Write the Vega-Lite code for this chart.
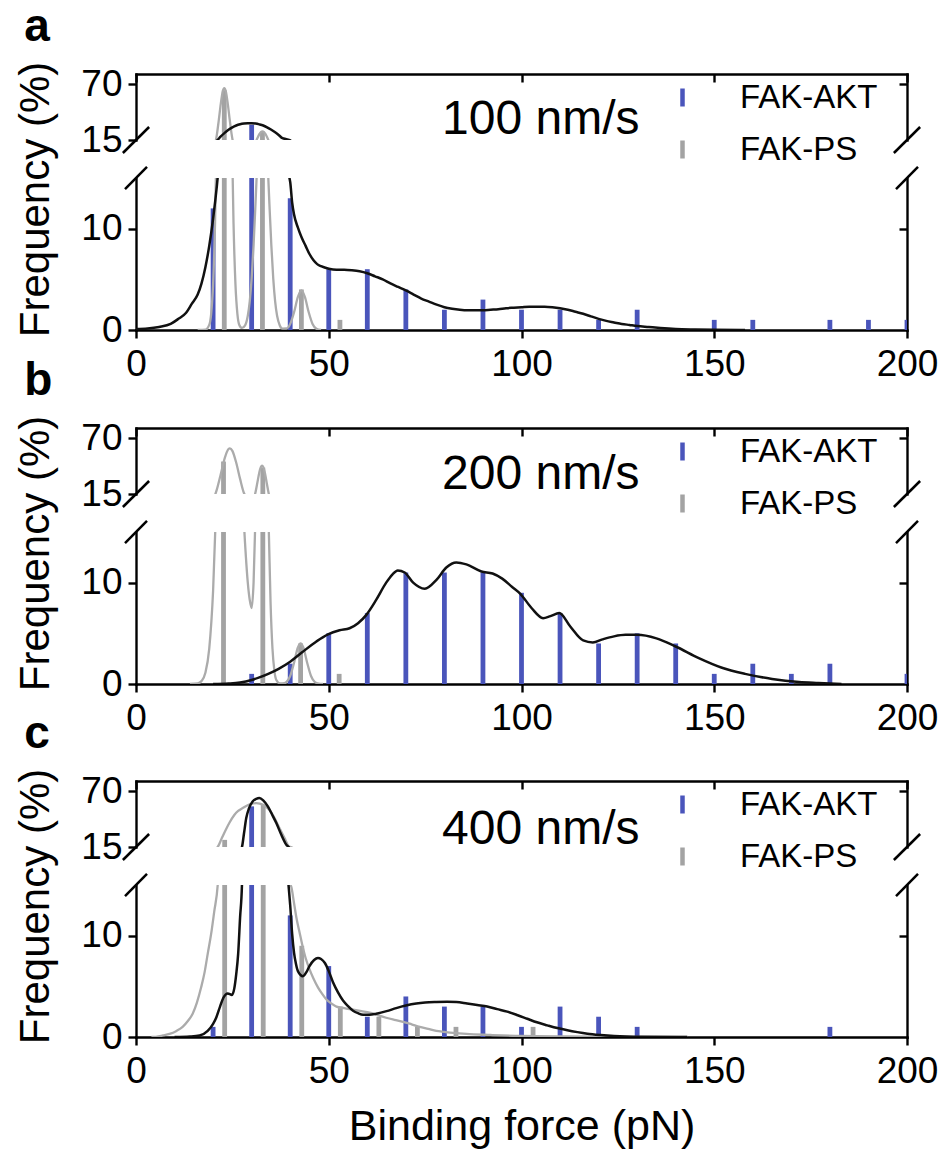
{
  "$schema": "https://vega.github.io/schema/vega-lite/v6.json",
  "background": "white",
  "padding": {"left": 13, "top": 4, "right": 5, "bottom": 5},
  "config": {
    "font": "Liberation Sans",
    "view": {"stroke": null},
    "axis": {"grid": false, "domainColor": "#000000", "domainWidth": 2.4, "tickColor": "#000000", "tickWidth": 2.4, "labelColor": "#000000", "labelFont": "Liberation Sans", "labelFontSize": 37, "titleColor": "#000000", "titleFont": "Liberation Sans", "titleFontWeight": "normal", "titleFontSize": 43, "labelFlush": false, "labelOverlap": false, "domainCap": "square"},
    "legend": {"labelFont": "Liberation Sans", "labelFontSize": 33, "labelColor": "#000000", "labelLimit": 0}
  },
  "datasets": {
    "bars_a": [
      {"force": 20, "freq": 12, "series": "FAK-AKT"}, {"force": 30, "freq": 30, "series": "FAK-AKT"}, {"force": 40, "freq": 13, "series": "FAK-AKT"},
      {"force": 50, "freq": 6, "series": "FAK-AKT"}, {"force": 60, "freq": 6, "series": "FAK-AKT"}, {"force": 70, "freq": 4, "series": "FAK-AKT"},
      {"force": 80, "freq": 2, "series": "FAK-AKT"}, {"force": 90, "freq": 3, "series": "FAK-AKT"}, {"force": 100, "freq": 2, "series": "FAK-AKT"},
      {"force": 110, "freq": 2, "series": "FAK-AKT"}, {"force": 120, "freq": 1, "series": "FAK-AKT"}, {"force": 130, "freq": 2, "series": "FAK-AKT"},
      {"force": 150, "freq": 1, "series": "FAK-AKT"}, {"force": 160, "freq": 1, "series": "FAK-AKT"}, {"force": 180, "freq": 1, "series": "FAK-AKT"},
      {"force": 190, "freq": 1, "series": "FAK-AKT"}, {"force": 200, "freq": 1, "series": "FAK-AKT"},
      {"force": 22.9, "freq": 64, "series": "FAK-PS"}, {"force": 32.8, "freq": 23, "series": "FAK-PS"}, {"force": 42.9, "freq": 4, "series": "FAK-PS"}, {"force": 52.9, "freq": 1, "series": "FAK-PS"}
    ],
    "bars_b": [
      {"force": 30, "freq": 1, "series": "FAK-AKT"}, {"force": 40, "freq": 2, "series": "FAK-AKT"}, {"force": 50, "freq": 5, "series": "FAK-AKT"},
      {"force": 60, "freq": 7, "series": "FAK-AKT"}, {"force": 70, "freq": 11, "series": "FAK-AKT"}, {"force": 80, "freq": 11, "series": "FAK-AKT"},
      {"force": 90, "freq": 11, "series": "FAK-AKT"}, {"force": 100, "freq": 9, "series": "FAK-AKT"}, {"force": 110, "freq": 7, "series": "FAK-AKT"},
      {"force": 120, "freq": 4, "series": "FAK-AKT"}, {"force": 130, "freq": 5, "series": "FAK-AKT"}, {"force": 140, "freq": 4, "series": "FAK-AKT"},
      {"force": 150, "freq": 1, "series": "FAK-AKT"}, {"force": 160, "freq": 2, "series": "FAK-AKT"}, {"force": 170, "freq": 1, "series": "FAK-AKT"},
      {"force": 180, "freq": 2, "series": "FAK-AKT"}, {"force": 200, "freq": 1, "series": "FAK-AKT"},
      {"force": 22.7, "freq": 47, "series": "FAK-PS"}, {"force": 32.9, "freq": 41, "series": "FAK-PS"}, {"force": 42.7, "freq": 4, "series": "FAK-PS"}, {"force": 52.7, "freq": 1, "series": "FAK-PS"}
    ],
    "bars_c": [
      {"force": 20, "freq": 1, "series": "FAK-AKT"}, {"force": 30, "freq": 55, "series": "FAK-AKT"}, {"force": 40, "freq": 12, "series": "FAK-AKT"},
      {"force": 50, "freq": 7, "series": "FAK-AKT"}, {"force": 60, "freq": 2, "series": "FAK-AKT"}, {"force": 70, "freq": 4, "series": "FAK-AKT"},
      {"force": 80, "freq": 3, "series": "FAK-AKT"}, {"force": 90, "freq": 3, "series": "FAK-AKT"}, {"force": 100, "freq": 1, "series": "FAK-AKT"},
      {"force": 110, "freq": 3, "series": "FAK-AKT"}, {"force": 120, "freq": 2, "series": "FAK-AKT"}, {"force": 130, "freq": 1, "series": "FAK-AKT"},
      {"force": 180, "freq": 1, "series": "FAK-AKT"},
      {"force": 23, "freq": 22, "series": "FAK-PS"}, {"force": 33, "freq": 57, "series": "FAK-PS"}, {"force": 43, "freq": 9, "series": "FAK-PS"},
      {"force": 53, "freq": 3, "series": "FAK-PS"}, {"force": 63, "freq": 2, "series": "FAK-PS"}, {"force": 73, "freq": 1, "series": "FAK-PS"},
      {"force": 83, "freq": 1, "series": "FAK-PS"}, {"force": 103, "freq": 1, "series": "FAK-PS"}
    ],
    "akt_a": [
      {"force": 0, "freq": 0.1}, {"force": 3, "freq": 0.15}, {"force": 6, "freq": 0.3}, {"force": 9, "freq": 0.6}, {"force": 11, "freq": 1.1},
      {"force": 13, "freq": 1.7}, {"force": 14.5, "freq": 2.6}, {"force": 16, "freq": 3.5}, {"force": 17, "freq": 4.6}, {"force": 18, "freq": 6.2},
      {"force": 19, "freq": 8.3}, {"force": 20, "freq": 11.0}, {"force": 21, "freq": 14.3}, {"force": 22, "freq": 18.5}, {"force": 23, "freq": 22},
      {"force": 24, "freq": 25}, {"force": 25, "freq": 27.5}, {"force": 26, "freq": 29.3}, {"force": 27, "freq": 30.5}, {"force": 28, "freq": 31.2},
      {"force": 29, "freq": 31.5}, {"force": 30, "freq": 31.5}, {"force": 31, "freq": 31.2}, {"force": 32, "freq": 30.4}, {"force": 33, "freq": 29.3},
      {"force": 34, "freq": 27.5}, {"force": 35, "freq": 25.3}, {"force": 36, "freq": 22.8}, {"force": 37, "freq": 20}, {"force": 38, "freq": 16.8},
      {"force": 39, "freq": 15.9}, {"force": 40, "freq": 14.6}, {"force": 40.5, "freq": 12.6}, {"force": 41, "freq": 11.4}, {"force": 42, "freq": 10.1},
      {"force": 43, "freq": 9.1}, {"force": 44, "freq": 8.3}, {"force": 45, "freq": 7.5}, {"force": 46, "freq": 6.9}, {"force": 47, "freq": 6.5},
      {"force": 48, "freq": 6.3}, {"force": 50, "freq": 6.05}, {"force": 52, "freq": 5.95}, {"force": 54, "freq": 5.95}, {"force": 56, "freq": 5.9},
      {"force": 58, "freq": 5.8}, {"force": 60, "freq": 5.6}, {"force": 62, "freq": 5.3}, {"force": 64, "freq": 5.0}, {"force": 66, "freq": 4.6},
      {"force": 68, "freq": 4.25}, {"force": 70, "freq": 3.9}, {"force": 72, "freq": 3.5}, {"force": 74, "freq": 3.1}, {"force": 76, "freq": 2.8},
      {"force": 78, "freq": 2.5}, {"force": 80, "freq": 2.25}, {"force": 82, "freq": 2.1}, {"force": 84, "freq": 2.0}, {"force": 86, "freq": 1.95},
      {"force": 88, "freq": 1.95}, {"force": 90, "freq": 1.95}, {"force": 92, "freq": 2.0}, {"force": 94, "freq": 2.05}, {"force": 96, "freq": 2.15},
      {"force": 98, "freq": 2.2}, {"force": 100, "freq": 2.25}, {"force": 102, "freq": 2.3}, {"force": 104, "freq": 2.3}, {"force": 106, "freq": 2.3},
      {"force": 108, "freq": 2.25}, {"force": 110, "freq": 2.15}, {"force": 112, "freq": 2.0}, {"force": 114, "freq": 1.8}, {"force": 116, "freq": 1.6},
      {"force": 118, "freq": 1.35}, {"force": 120, "freq": 1.1}, {"force": 122, "freq": 0.9}, {"force": 124, "freq": 0.75}, {"force": 126, "freq": 0.6},
      {"force": 128, "freq": 0.5}, {"force": 130, "freq": 0.4}, {"force": 133, "freq": 0.3}, {"force": 136, "freq": 0.2}, {"force": 140, "freq": 0.1},
      {"force": 145, "freq": 0.05}, {"force": 150, "freq": 0.02}, {"force": 158, "freq": 0}
    ],
    "ps_a": [
      {"force": 16, "freq": 0}, {"force": 18, "freq": 0.03}, {"force": 19, "freq": 0.5}, {"force": 19.5, "freq": 1.6}, {"force": 20, "freq": 4.5},
      {"force": 20.5, "freq": 10.5}, {"force": 21, "freq": 20.8}, {"force": 21.5, "freq": 35.3}, {"force": 22, "freq": 50.9}, {"force": 22.5, "freq": 62.7},
      {"force": 22.9, "freq": 66}, {"force": 23.3, "freq": 62.7}, {"force": 23.8, "freq": 50.9}, {"force": 24.3, "freq": 35.3}, {"force": 24.8, "freq": 20.8},
      {"force": 25.3, "freq": 10.5}, {"force": 25.8, "freq": 4.5}, {"force": 26.3, "freq": 1.6}, {"force": 26.8, "freq": 0.5}, {"force": 27.5, "freq": 0.2},
      {"force": 28.3, "freq": 0.45}, {"force": 29, "freq": 1.4}, {"force": 29.5, "freq": 2.8}, {"force": 30, "freq": 5.1}, {"force": 30.5, "freq": 8.4},
      {"force": 31, "freq": 12.5}, {"force": 31.5, "freq": 16.9}, {"force": 32, "freq": 20.7}, {"force": 32.4, "freq": 22.8}, {"force": 32.8, "freq": 23.5},
      {"force": 33.2, "freq": 22.8}, {"force": 33.6, "freq": 20.7}, {"force": 34.1, "freq": 16.9}, {"force": 34.6, "freq": 12.5}, {"force": 35.1, "freq": 8.4},
      {"force": 35.6, "freq": 5.1}, {"force": 36.1, "freq": 2.8}, {"force": 36.6, "freq": 1.4}, {"force": 37.3, "freq": 0.45}, {"force": 38, "freq": 0.14},
      {"force": 39, "freq": 0.15}, {"force": 40, "freq": 0.6}, {"force": 41, "freq": 1.75}, {"force": 42, "freq": 3.26}, {"force": 42.9, "freq": 3.9},
      {"force": 43.8, "freq": 3.26}, {"force": 44.8, "freq": 1.75}, {"force": 45.8, "freq": 0.6}, {"force": 46.8, "freq": 0.13}, {"force": 48, "freq": 0}
    ],
    "akt_b": [
      {"force": 20, "freq": 0}, {"force": 24, "freq": 0.05}, {"force": 27, "freq": 0.15}, {"force": 30, "freq": 0.4}, {"force": 32, "freq": 0.65},
      {"force": 34.6, "freq": 1.05}, {"force": 37, "freq": 1.5}, {"force": 40, "freq": 2.2}, {"force": 43, "freq": 3.1}, {"force": 46.8, "freq": 4.2},
      {"force": 49.8, "freq": 4.9}, {"force": 52.8, "freq": 5.3}, {"force": 55.4, "freq": 5.5}, {"force": 57.6, "freq": 6.0}, {"force": 59.7, "freq": 6.8},
      {"force": 62.3, "freq": 8.3}, {"force": 64.9, "freq": 10.0}, {"force": 66.5, "freq": 10.8}, {"force": 67.9, "freq": 11.2}, {"force": 69.7, "freq": 11.0},
      {"force": 71.9, "freq": 10.0}, {"force": 74.9, "freq": 9.4}, {"force": 78, "freq": 10.3}, {"force": 80.5, "freq": 11.5}, {"force": 83.1, "freq": 12.0},
      {"force": 85.7, "freq": 11.8}, {"force": 89.6, "freq": 11.1}, {"force": 92.5, "freq": 10.9}, {"force": 95, "freq": 10.4}, {"force": 97.5, "freq": 9.6},
      {"force": 99.7, "freq": 8.9}, {"force": 102.6, "freq": 7.5}, {"force": 105.6, "freq": 6.5}, {"force": 107.5, "freq": 6.7}, {"force": 109.8, "freq": 7.0},
      {"force": 112.6, "freq": 5.7}, {"force": 116, "freq": 4.3}, {"force": 118.5, "freq": 4.1}, {"force": 121, "freq": 4.4}, {"force": 124, "freq": 4.7},
      {"force": 127, "freq": 4.85}, {"force": 130, "freq": 4.85}, {"force": 135, "freq": 4.5}, {"force": 140, "freq": 3.7}, {"force": 146, "freq": 2.55},
      {"force": 152, "freq": 1.6}, {"force": 158, "freq": 1.0}, {"force": 165, "freq": 0.5}, {"force": 172, "freq": 0.2}, {"force": 177, "freq": 0.1},
      {"force": 183, "freq": 0}
    ],
    "ps_b": [
      {"force": 14, "freq": 0}, {"force": 16, "freq": 0.06}, {"force": 17, "freq": 0.3}, {"force": 18, "freq": 1.1}, {"force": 19, "freq": 3.5},
      {"force": 20, "freq": 9.2}, {"force": 21, "freq": 19.8}, {"force": 22, "freq": 34.7}, {"force": 23, "freq": 50.1}, {"force": 24, "freq": 59.3},
      {"force": 24.35, "freq": 60}, {"force": 25, "freq": 57.5}, {"force": 26, "freq": 45.8}, {"force": 27, "freq": 29.9}, {"force": 28, "freq": 16.0},
      {"force": 28.5, "freq": 12.6}, {"force": 29, "freq": 10}, {"force": 29.5, "freq": 8.3}, {"force": 30, "freq": 7.5}, {"force": 30.5, "freq": 10},
      {"force": 31, "freq": 16.7}, {"force": 31.5, "freq": 26.5}, {"force": 32, "freq": 36.5}, {"force": 32.4, "freq": 41.7}, {"force": 32.7, "freq": 43},
      {"force": 33, "freq": 41.7}, {"force": 33.4, "freq": 36.3}, {"force": 33.9, "freq": 26.2}, {"force": 34.4, "freq": 15.9}, {"force": 34.9, "freq": 8.1},
      {"force": 35.4, "freq": 3.5}, {"force": 35.9, "freq": 1.3}, {"force": 36.4, "freq": 0.4}, {"force": 37.4, "freq": 0.05}, {"force": 38.5, "freq": 0.08},
      {"force": 39, "freq": 0.19}, {"force": 40, "freq": 0.79}, {"force": 41, "freq": 2.1}, {"force": 42, "freq": 3.6}, {"force": 42.7, "freq": 4.0},
      {"force": 43.4, "freq": 3.6}, {"force": 44.4, "freq": 2.1}, {"force": 45.4, "freq": 0.79}, {"force": 46.4, "freq": 0.19}, {"force": 47.4, "freq": 0.04},
      {"force": 48.5, "freq": 0}
    ],
    "akt_c": [
      {"force": 10, "freq": 0}, {"force": 14, "freq": 0.05}, {"force": 16.5, "freq": 0.15}, {"force": 18.6, "freq": 0.6}, {"force": 20, "freq": 1.3},
      {"force": 20.8, "freq": 1.9}, {"force": 21.8, "freq": 3.0}, {"force": 22.7, "freq": 3.9}, {"force": 23.8, "freq": 4.3}, {"force": 24.9, "freq": 4.15},
      {"force": 25.5, "freq": 4.8}, {"force": 26, "freq": 6.2}, {"force": 26.5, "freq": 8.2}, {"force": 27, "freq": 11.8}, {"force": 27.5, "freq": 15.2},
      {"force": 28, "freq": 28}, {"force": 28.6, "freq": 43.6}, {"force": 29.3, "freq": 53}, {"force": 30.3, "freq": 60}, {"force": 31.2, "freq": 62.5},
      {"force": 32, "freq": 63.3}, {"force": 33, "freq": 61}, {"force": 34.2, "freq": 55}, {"force": 35.3, "freq": 47}, {"force": 36.4, "freq": 38.6},
      {"force": 37.7, "freq": 27}, {"force": 39, "freq": 17.3}, {"force": 39.5, "freq": 15.3}, {"force": 40, "freq": 13}, {"force": 40.5, "freq": 10.2},
      {"force": 41, "freq": 8.3}, {"force": 41.5, "freq": 7.2}, {"force": 42, "freq": 6.5}, {"force": 43.3, "freq": 6.0}, {"force": 44.2, "freq": 6.4},
      {"force": 45, "freq": 7.0}, {"force": 46.2, "freq": 7.6}, {"force": 47.2, "freq": 7.8}, {"force": 48, "freq": 7.7}, {"force": 49, "freq": 7.3},
      {"force": 50, "freq": 6.5}, {"force": 51.1, "freq": 5.4}, {"force": 52.4, "freq": 4.4}, {"force": 53.7, "freq": 3.6}, {"force": 55, "freq": 3.05},
      {"force": 56.3, "freq": 2.6}, {"force": 57.6, "freq": 2.35}, {"force": 58.9, "freq": 2.2}, {"force": 60.6, "freq": 2.2}, {"force": 62.3, "freq": 2.3},
      {"force": 65, "freq": 2.55}, {"force": 67.5, "freq": 2.85}, {"force": 70, "freq": 3.1}, {"force": 72.7, "freq": 3.3}, {"force": 75, "freq": 3.4},
      {"force": 77.9, "freq": 3.45}, {"force": 80.7, "freq": 3.47}, {"force": 83.1, "freq": 3.45}, {"force": 85.9, "freq": 3.3}, {"force": 88.5, "freq": 3.15},
      {"force": 91.1, "freq": 3.0}, {"force": 93.7, "freq": 2.75}, {"force": 96.3, "freq": 2.5}, {"force": 99, "freq": 2.15}, {"force": 101.5, "freq": 1.8},
      {"force": 104, "freq": 1.45}, {"force": 106.7, "freq": 1.15}, {"force": 109.3, "freq": 0.88}, {"force": 111.9, "freq": 0.66}, {"force": 114.5, "freq": 0.48},
      {"force": 117.1, "freq": 0.33}, {"force": 120.5, "freq": 0.2}, {"force": 124, "freq": 0.1}, {"force": 131, "freq": 0.02}, {"force": 143, "freq": 0}
    ],
    "ps_c": [
      {"force": 4, "freq": 0}, {"force": 5.2, "freq": 0.02}, {"force": 7, "freq": 0.15}, {"force": 8.7, "freq": 0.3}, {"force": 10.5, "freq": 0.6},
      {"force": 12.1, "freq": 1.0}, {"force": 13.5, "freq": 1.6}, {"force": 14.7, "freq": 2.3}, {"force": 15.8, "freq": 3.4}, {"force": 16.9, "freq": 4.9},
      {"force": 17.8, "freq": 6.4}, {"force": 18.6, "freq": 8.2}, {"force": 19.5, "freq": 10.2}, {"force": 20.3, "freq": 12.4}, {"force": 21.2, "freq": 15.0},
      {"force": 22.3, "freq": 24}, {"force": 23.3, "freq": 32}, {"force": 24.2, "freq": 38.6}, {"force": 25.5, "freq": 46.5}, {"force": 26.5, "freq": 50.5},
      {"force": 27.7, "freq": 53.4}, {"force": 29.5, "freq": 57}, {"force": 31.2, "freq": 58.3}, {"force": 33, "freq": 56.5}, {"force": 34.6, "freq": 51.7},
      {"force": 36, "freq": 43}, {"force": 37.2, "freq": 33.7}, {"force": 38.5, "freq": 24}, {"force": 39.8, "freq": 15.2}, {"force": 40.3, "freq": 14.8},
      {"force": 41, "freq": 13.2}, {"force": 41.6, "freq": 11.8}, {"force": 42.5, "freq": 10.2}, {"force": 43.3, "freq": 8.8}, {"force": 44, "freq": 7.8},
      {"force": 45, "freq": 6.7}, {"force": 46, "freq": 5.8}, {"force": 47.2, "freq": 4.9}, {"force": 48.3, "freq": 4.25}, {"force": 49.4, "freq": 3.7},
      {"force": 50.7, "freq": 3.3}, {"force": 52, "freq": 3.0}, {"force": 54, "freq": 2.85}, {"force": 56.3, "freq": 2.7}, {"force": 58.5, "freq": 2.55},
      {"force": 60.6, "freq": 2.4}, {"force": 62.7, "freq": 2.15}, {"force": 64.9, "freq": 1.9}, {"force": 67, "freq": 1.7}, {"force": 69.3, "freq": 1.5},
      {"force": 71.5, "freq": 1.25}, {"force": 73.6, "freq": 1.0}, {"force": 75.8, "freq": 0.8}, {"force": 77.9, "freq": 0.6}, {"force": 80, "freq": 0.5},
      {"force": 82.3, "freq": 0.4}, {"force": 85.7, "freq": 0.3}, {"force": 92, "freq": 0.2}, {"force": 100, "freq": 0.1}, {"force": 112, "freq": 0.05},
      {"force": 125, "freq": 0.02}, {"force": 143, "freq": 0}
    ]
  },
  "spacing": 38,
  "bounds": "flush",
  "resolve": {"scale": {"color": "independent"}},
  "vconcat": [
    {
      "width": 771, "height": 66,
      "layer": [
        {"data": {"name": "bars_a"}, "mark": {"type": "rule", "strokeWidth": 4.8, "clip": true},
         "encoding": {
           "x": {"field": "force", "type": "quantitative", "scale": {"domain": [0, 200], "nice": false, "zero": false}, "axis": {"orient": "top", "values": [0, 50, 100, 150, 200], "labels": false, "tickSize": -8, "title": null}},
           "y": {"field": "freq", "type": "quantitative", "scale": {"domain": [15, 80], "nice": false, "zero": false}, "axis": {"orient": "left", "values": [15, 70], "title": null, "tickSize": 8, "labelPadding": 6}},
           "y2": {"datum": 0},
           "color": {"field": "series", "type": "nominal", "scale": {"domain": ["FAK-AKT", "FAK-PS"], "range": ["#4a55bb", "#a3a3a3"]},
             "legend": {"orient": "none", "legendX": 530, "legendY": 7, "title": null, "symbolType": "M0,-1V1", "symbolSize": 324, "symbolStrokeWidth": 4.5, "labelOffset": 41, "rowPadding": 15, "padding": 0, "direction": "vertical"}}
         }},
        {"data": {"name": "ps_a"}, "mark": {"type": "line", "color": "#ababab", "strokeWidth": 2.3, "interpolate": "monotone", "clip": true},
         "encoding": {"x": {"field": "force", "type": "quantitative", "axis": null}, "y": {"field": "freq", "type": "quantitative", "axis": {"orient": "right", "values": [70], "labels": false, "tickSize": -8, "title": null}}}},
        {"data": {"name": "akt_a"}, "mark": {"type": "line", "color": "#111111", "strokeWidth": 2.5, "interpolate": "monotone", "clip": true},
         "encoding": {"x": {"field": "force", "type": "quantitative", "axis": null}, "y": {"field": "freq", "type": "quantitative", "axis": null}}},
        {"data": {"values": [{}]}, "mark": {"type": "rule", "strokeWidth": 2.5, "color": "#000000", "clip": false},
         "encoding": {"x": {"datum": -3.4, "type": "quantitative", "axis": null}, "x2": {"datum": 3.4}, "y": {"datum": 2.2, "type": "quantitative", "axis": null}, "y2": {"datum": 27.8}}},
        {"data": {"values": [{}]}, "mark": {"type": "rule", "strokeWidth": 2.5, "color": "#000000", "clip": false},
         "encoding": {"x": {"datum": 196.6, "type": "quantitative", "axis": null}, "x2": {"datum": 203.4}, "y": {"datum": 2.2, "type": "quantitative", "axis": null}, "y2": {"datum": 27.8}}},
        {"data": {"values": [{}]}, "mark": {"type": "text", "text": "100 nm/s", "fontSize": 48, "align": "center", "baseline": "alphabetic", "color": "#000000", "clip": false},
         "encoding": {"x": {"datum": 105, "type": "quantitative", "axis": null}, "y": {"datum": 20.5, "type": "quantitative", "axis": null}}},
        {"data": {"values": [{}]}, "mark": {"type": "text", "text": "a", "fontSize": 46, "fontWeight": "bold", "align": "left", "baseline": "alphabetic", "color": "#000000", "clip": false},
         "encoding": {"x": {"datum": -29, "type": "quantitative", "axis": null}, "y": {"datum": 112.5, "type": "quantitative", "axis": null}}}
      ],
      "resolve": {"axis": {"x": "independent", "y": "independent"}}
    },
    {
      "width": 771, "height": 152,
      "layer": [
        {"data": {"name": "bars_a"}, "mark": {"type": "rule", "strokeWidth": 4.8, "clip": true},
         "encoding": {
           "x": {"field": "force", "type": "quantitative", "scale": {"domain": [0, 200], "nice": false, "zero": false}, "axis": {"orient": "bottom", "values": [0, 50, 100, 150, 200], "tickSize": 8, "labelPadding": 8, "title": null}},
           "y": {"field": "freq", "type": "quantitative", "scale": {"domain": [0, 15], "nice": false, "zero": false}, "axis": {"orient": "left", "values": [0, 10], "tickSize": 8, "labelPadding": 6, "title": "Frequency (%)", "titleFontSize": 42, "titleX": -101, "titleY": 21, "titleAngle": 270, "titleAlign": "center", "titleBaseline": "middle"}},
           "y2": {"datum": 0},
           "color": {"field": "series", "type": "nominal", "scale": {"domain": ["FAK-AKT", "FAK-PS"], "range": ["#4a55bb", "#a3a3a3"]}, "legend": null}
         }},
        {"data": {"name": "ps_a"}, "mark": {"type": "line", "color": "#ababab", "strokeWidth": 2.3, "interpolate": "monotone", "clip": true},
         "encoding": {"x": {"field": "force", "type": "quantitative", "axis": null}, "y": {"field": "freq", "type": "quantitative", "axis": {"orient": "right", "values": [10], "labels": false, "tickSize": -8, "title": null}}}},
        {"data": {"name": "akt_a"}, "mark": {"type": "line", "color": "#111111", "strokeWidth": 2.5, "interpolate": "monotone", "clip": true},
         "encoding": {"x": {"field": "force", "type": "quantitative", "axis": null}, "y": {"field": "freq", "type": "quantitative", "axis": null}}},
        {"data": {"values": [{}]}, "mark": {"type": "rule", "strokeWidth": 2.5, "color": "#000000", "clip": false},
         "encoding": {"x": {"datum": -2.85, "type": "quantitative", "axis": null}, "x2": {"datum": 2.85}, "y": {"datum": 13.9, "type": "quantitative", "axis": null}, "y2": {"datum": 16.1}}},
        {"data": {"values": [{}]}, "mark": {"type": "rule", "strokeWidth": 2.5, "color": "#000000", "clip": false},
         "encoding": {"x": {"datum": 197.15, "type": "quantitative", "axis": null}, "x2": {"datum": 202.85}, "y": {"datum": 13.9, "type": "quantitative", "axis": null}, "y2": {"datum": 16.1}}}
      ],
      "resolve": {"axis": {"x": "independent", "y": "independent"}}
    },
    {"width": 771, "height": 22, "data": {"values": []}, "mark": "point"},
    {
      "width": 771, "height": 66,
      "layer": [
        {"data": {"name": "bars_b"}, "mark": {"type": "rule", "strokeWidth": 4.8, "clip": true},
         "encoding": {
           "x": {"field": "force", "type": "quantitative", "scale": {"domain": [0, 200], "nice": false, "zero": false}, "axis": {"orient": "top", "values": [0, 50, 100, 150, 200], "labels": false, "tickSize": -8, "title": null}},
           "y": {"field": "freq", "type": "quantitative", "scale": {"domain": [15, 80], "nice": false, "zero": false}, "axis": {"orient": "left", "values": [15, 70], "title": null, "tickSize": 8, "labelPadding": 6}},
           "y2": {"datum": 0},
           "color": {"field": "series", "type": "nominal", "scale": {"domain": ["FAK-AKT", "FAK-PS"], "range": ["#4a55bb", "#a3a3a3"]},
             "legend": {"orient": "none", "legendX": 530, "legendY": 7, "title": null, "symbolType": "M0,-1V1", "symbolSize": 324, "symbolStrokeWidth": 4.5, "labelOffset": 41, "rowPadding": 15, "padding": 0, "direction": "vertical"}}
         }},
        {"data": {"name": "ps_b"}, "mark": {"type": "line", "color": "#ababab", "strokeWidth": 2.3, "interpolate": "monotone", "clip": true},
         "encoding": {"x": {"field": "force", "type": "quantitative", "axis": null}, "y": {"field": "freq", "type": "quantitative", "axis": {"orient": "right", "values": [70], "labels": false, "tickSize": -8, "title": null}}}},
        {"data": {"name": "akt_b"}, "mark": {"type": "line", "color": "#111111", "strokeWidth": 2.5, "interpolate": "monotone", "clip": true},
         "encoding": {"x": {"field": "force", "type": "quantitative", "axis": null}, "y": {"field": "freq", "type": "quantitative", "axis": null}}},
        {"data": {"values": [{}]}, "mark": {"type": "rule", "strokeWidth": 2.5, "color": "#000000", "clip": false},
         "encoding": {"x": {"datum": -3.4, "type": "quantitative", "axis": null}, "x2": {"datum": 3.4}, "y": {"datum": 2.2, "type": "quantitative", "axis": null}, "y2": {"datum": 27.8}}},
        {"data": {"values": [{}]}, "mark": {"type": "rule", "strokeWidth": 2.5, "color": "#000000", "clip": false},
         "encoding": {"x": {"datum": 196.6, "type": "quantitative", "axis": null}, "x2": {"datum": 203.4}, "y": {"datum": 2.2, "type": "quantitative", "axis": null}, "y2": {"datum": 27.8}}},
        {"data": {"values": [{}]}, "mark": {"type": "text", "text": "200 nm/s", "fontSize": 48, "align": "center", "baseline": "alphabetic", "color": "#000000", "clip": false},
         "encoding": {"x": {"datum": 105, "type": "quantitative", "axis": null}, "y": {"datum": 20, "type": "quantitative", "axis": null}}},
        {"data": {"values": [{}]}, "mark": {"type": "text", "text": "b", "fontSize": 46, "fontWeight": "bold", "align": "left", "baseline": "alphabetic", "color": "#000000", "clip": false},
         "encoding": {"x": {"datum": -29, "type": "quantitative", "axis": null}, "y": {"datum": 112.5, "type": "quantitative", "axis": null}}}
      ],
      "resolve": {"axis": {"x": "independent", "y": "independent"}}
    },
    {
      "width": 771, "height": 152,
      "layer": [
        {"data": {"name": "bars_b"}, "mark": {"type": "rule", "strokeWidth": 4.8, "clip": true},
         "encoding": {
           "x": {"field": "force", "type": "quantitative", "scale": {"domain": [0, 200], "nice": false, "zero": false}, "axis": {"orient": "bottom", "values": [0, 50, 100, 150, 200], "tickSize": 8, "labelPadding": 8, "title": null}},
           "y": {"field": "freq", "type": "quantitative", "scale": {"domain": [0, 15], "nice": false, "zero": false}, "axis": {"orient": "left", "values": [0, 10], "tickSize": 8, "labelPadding": 6, "title": "Frequency (%)", "titleFontSize": 42, "titleX": -101, "titleY": 21, "titleAngle": 270, "titleAlign": "center", "titleBaseline": "middle"}},
           "y2": {"datum": 0},
           "color": {"field": "series", "type": "nominal", "scale": {"domain": ["FAK-AKT", "FAK-PS"], "range": ["#4a55bb", "#a3a3a3"]}, "legend": null}
         }},
        {"data": {"name": "ps_b"}, "mark": {"type": "line", "color": "#ababab", "strokeWidth": 2.3, "interpolate": "monotone", "clip": true},
         "encoding": {"x": {"field": "force", "type": "quantitative", "axis": null}, "y": {"field": "freq", "type": "quantitative", "axis": {"orient": "right", "values": [10], "labels": false, "tickSize": -8, "title": null}}}},
        {"data": {"name": "akt_b"}, "mark": {"type": "line", "color": "#111111", "strokeWidth": 2.5, "interpolate": "monotone", "clip": true},
         "encoding": {"x": {"field": "force", "type": "quantitative", "axis": null}, "y": {"field": "freq", "type": "quantitative", "axis": null}}},
        {"data": {"values": [{}]}, "mark": {"type": "rule", "strokeWidth": 2.5, "color": "#000000", "clip": false},
         "encoding": {"x": {"datum": -2.85, "type": "quantitative", "axis": null}, "x2": {"datum": 2.85}, "y": {"datum": 13.9, "type": "quantitative", "axis": null}, "y2": {"datum": 16.1}}},
        {"data": {"values": [{}]}, "mark": {"type": "rule", "strokeWidth": 2.5, "color": "#000000", "clip": false},
         "encoding": {"x": {"datum": 197.15, "type": "quantitative", "axis": null}, "x2": {"datum": 202.85}, "y": {"datum": 13.9, "type": "quantitative", "axis": null}, "y2": {"datum": 16.1}}}
      ],
      "resolve": {"axis": {"x": "independent", "y": "independent"}}
    },
    {"width": 771, "height": 21, "data": {"values": []}, "mark": "point"},
    {
      "width": 771, "height": 66,
      "layer": [
        {"data": {"name": "bars_c"}, "mark": {"type": "rule", "strokeWidth": 4.8, "clip": true},
         "encoding": {
           "x": {"field": "force", "type": "quantitative", "scale": {"domain": [0, 200], "nice": false, "zero": false}, "axis": {"orient": "top", "values": [0, 50, 100, 150, 200], "labels": false, "tickSize": -8, "title": null}},
           "y": {"field": "freq", "type": "quantitative", "scale": {"domain": [15, 80], "nice": false, "zero": false}, "axis": {"orient": "left", "values": [15, 70], "title": null, "tickSize": 8, "labelPadding": 6}},
           "y2": {"datum": 0},
           "color": {"field": "series", "type": "nominal", "scale": {"domain": ["FAK-AKT", "FAK-PS"], "range": ["#4a55bb", "#a3a3a3"]},
             "legend": {"orient": "none", "legendX": 530, "legendY": 7, "title": null, "symbolType": "M0,-1V1", "symbolSize": 324, "symbolStrokeWidth": 4.5, "labelOffset": 41, "rowPadding": 15, "padding": 0, "direction": "vertical"}}
         }},
        {"data": {"name": "ps_c"}, "mark": {"type": "line", "color": "#ababab", "strokeWidth": 2.3, "interpolate": "monotone", "clip": true},
         "encoding": {"x": {"field": "force", "type": "quantitative", "axis": null}, "y": {"field": "freq", "type": "quantitative", "axis": {"orient": "right", "values": [70], "labels": false, "tickSize": -8, "title": null}}}},
        {"data": {"name": "akt_c"}, "mark": {"type": "line", "color": "#111111", "strokeWidth": 2.5, "interpolate": "monotone", "clip": true},
         "encoding": {"x": {"field": "force", "type": "quantitative", "axis": null}, "y": {"field": "freq", "type": "quantitative", "axis": null}}},
        {"data": {"values": [{}]}, "mark": {"type": "rule", "strokeWidth": 2.5, "color": "#000000", "clip": false},
         "encoding": {"x": {"datum": -3.4, "type": "quantitative", "axis": null}, "x2": {"datum": 3.4}, "y": {"datum": 2.2, "type": "quantitative", "axis": null}, "y2": {"datum": 27.8}}},
        {"data": {"values": [{}]}, "mark": {"type": "rule", "strokeWidth": 2.5, "color": "#000000", "clip": false},
         "encoding": {"x": {"datum": 196.6, "type": "quantitative", "axis": null}, "x2": {"datum": 203.4}, "y": {"datum": 2.2, "type": "quantitative", "axis": null}, "y2": {"datum": 27.8}}},
        {"data": {"values": [{}]}, "mark": {"type": "text", "text": "400 nm/s", "fontSize": 48, "align": "center", "baseline": "alphabetic", "color": "#000000", "clip": false},
         "encoding": {"x": {"datum": 105, "type": "quantitative", "axis": null}, "y": {"datum": 17.5, "type": "quantitative", "axis": null}}},
        {"data": {"values": [{}]}, "mark": {"type": "text", "text": "c", "fontSize": 46, "fontWeight": "bold", "align": "left", "baseline": "alphabetic", "color": "#000000", "clip": false},
         "encoding": {"x": {"datum": -29, "type": "quantitative", "axis": null}, "y": {"datum": 112.5, "type": "quantitative", "axis": null}}}
      ],
      "resolve": {"axis": {"x": "independent", "y": "independent"}}
    },
    {
      "width": 771, "height": 152,
      "layer": [
        {"data": {"name": "bars_c"}, "mark": {"type": "rule", "strokeWidth": 4.8, "clip": true},
         "encoding": {
           "x": {"field": "force", "type": "quantitative", "scale": {"domain": [0, 200], "nice": false, "zero": false}, "axis": {"orient": "bottom", "values": [0, 50, 100, 150, 200], "tickSize": 8, "labelPadding": 8, "title": "Binding force (pN)", "titlePadding": 16}},
           "y": {"field": "freq", "type": "quantitative", "scale": {"domain": [0, 15], "nice": false, "zero": false}, "axis": {"orient": "left", "values": [0, 10], "tickSize": 8, "labelPadding": 6, "title": "Frequency (%)", "titleFontSize": 42, "titleX": -101, "titleY": 21, "titleAngle": 270, "titleAlign": "center", "titleBaseline": "middle"}},
           "y2": {"datum": 0},
           "color": {"field": "series", "type": "nominal", "scale": {"domain": ["FAK-AKT", "FAK-PS"], "range": ["#4a55bb", "#a3a3a3"]}, "legend": null}
         }},
        {"data": {"name": "ps_c"}, "mark": {"type": "line", "color": "#ababab", "strokeWidth": 2.3, "interpolate": "monotone", "clip": true},
         "encoding": {"x": {"field": "force", "type": "quantitative", "axis": null}, "y": {"field": "freq", "type": "quantitative", "axis": {"orient": "right", "values": [10], "labels": false, "tickSize": -8, "title": null}}}},
        {"data": {"name": "akt_c"}, "mark": {"type": "line", "color": "#111111", "strokeWidth": 2.5, "interpolate": "monotone", "clip": true},
         "encoding": {"x": {"field": "force", "type": "quantitative", "axis": null}, "y": {"field": "freq", "type": "quantitative", "axis": null}}},
        {"data": {"values": [{}]}, "mark": {"type": "rule", "strokeWidth": 2.5, "color": "#000000", "clip": false},
         "encoding": {"x": {"datum": -2.85, "type": "quantitative", "axis": null}, "x2": {"datum": 2.85}, "y": {"datum": 13.9, "type": "quantitative", "axis": null}, "y2": {"datum": 16.1}}},
        {"data": {"values": [{}]}, "mark": {"type": "rule", "strokeWidth": 2.5, "color": "#000000", "clip": false},
         "encoding": {"x": {"datum": 197.15, "type": "quantitative", "axis": null}, "x2": {"datum": 202.85}, "y": {"datum": 13.9, "type": "quantitative", "axis": null}, "y2": {"datum": 16.1}}}
      ],
      "resolve": {"axis": {"x": "independent", "y": "independent"}}
    }
  ]
}
